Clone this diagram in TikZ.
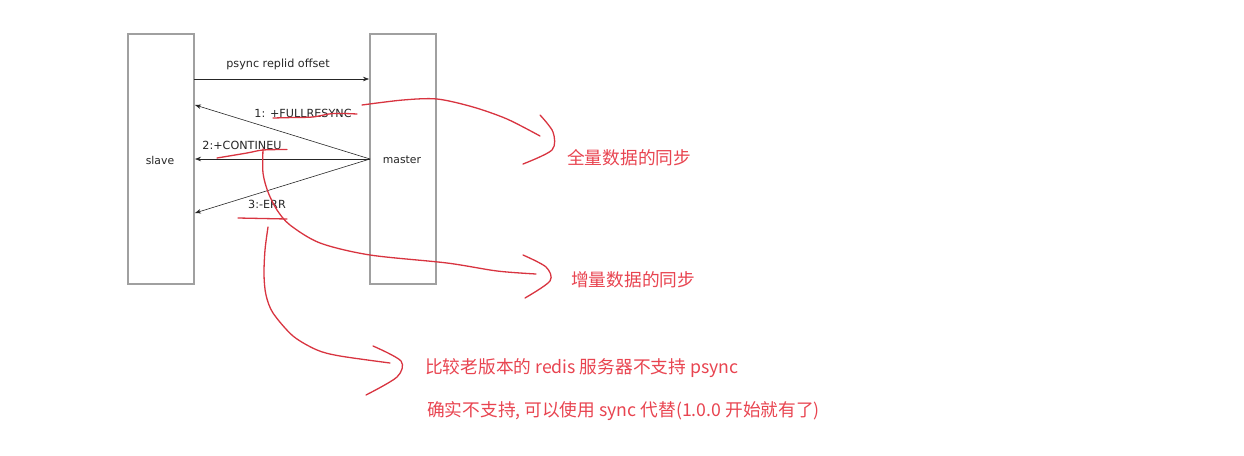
\documentclass[tikz,border=0pt]{standalone}
\usepackage{fontspec}
\setmainfont{DejaVu Sans}
\newfontfamily\cjkfont{Noto Sans CJK SC}
\usetikzlibrary{arrows.meta}
\definecolor{boxgray}{RGB}{160,160,160}
\definecolor{annored}{RGB}{216,52,64}
\definecolor{textred}{RGB}{232,68,80}
\tikzset{
  lifebox/.style={draw=boxgray, line width=1.1pt, fill=white},
  msgarrow/.style={draw=black!85, line width=0.6pt, -{Stealth[length=6pt,width=4.5pt]}},
  msglabel/.style={inner sep=0pt, font=\fontsize{11.2}{12}\selectfont, text=black!85},
  boxlabel/.style={inner sep=0pt, font=\fontsize{10.8}{12}\selectfont, text=black!85},
  redline/.style={draw=annored, line width=1.3pt, line cap=round, line join=round},
  redtext/.style={inner sep=0pt, anchor=west, text=textred, font=\cjkfont\fontsize{17.7}{20}\selectfont},
}
\begin{document}
\begin{tikzpicture}[x=1pt,y=-1pt]
\useasboundingbox (0,0) rectangle (1244,455);
% lifeline boxes
\draw[lifebox] (128,34) rectangle (194,284);
\draw[lifebox] (370,34) rectangle (436,284);
\node[boxlabel] (slave) at (160,160) {slave};
\node[boxlabel] (master) at (402,160) {master};
% anchor coordinates
\coordinate (sA) at (194,79);
\coordinate (mA) at (369,79);
\coordinate (mB) at (370,159);
\coordinate (s1) at (195,105);
\coordinate (s2) at (195,159);
\coordinate (s3) at (195,213);
% messages
\draw[msgarrow] (sA) -- (mA);
\draw[msgarrow] (mB) -- (s1);
\draw[msgarrow] (mB) -- (s2);
\draw[msgarrow] (mB) -- (s3);
\node[msglabel] (l0) at (278,64) {psync replid offset};
\node[msglabel] (l1) at (303,113) {1: +FULLRESYNC};
\node[msglabel] (l2) at (242,145) {2:+CONTINEU};
\node[msglabel] (l3) at (267,204) {3:-ERR};
% red annotations: underlines
\draw[redline] plot[smooth] coordinates {(273,118) (293,117.5) (313,117) (333,113.5) (357,114)};
\draw[redline] plot[smooth] coordinates {(217,158) (247,153) (263,150) (287,149.5)};
\draw[redline] (238,218) -- (287,219);
% curve 1
\draw[redline] plot[smooth] coordinates {(362,105) (403,100) (437,99) (473,107) (507,119) (540,136)};
\draw[redline] plot[smooth] coordinates {(540,115) (553,132) (552,150) (523,164)};
% curve 2
\draw[redline] plot[smooth] coordinates {(263,149) (263,173) (268,192) (277,210) (290,225) (320,243) (370,255) (447,263) (497,271) (536,274)};
\draw[redline] plot[smooth] coordinates {(523,255) (546,267) (550,281) (525,298)};
% curve 3
\draw[redline] plot[smooth] coordinates {(268,227) (265,250) (264,275) (266,295) (273,313) (293,336) (317,350) (340,356) (390,363)};
\draw[redline] plot[smooth] coordinates {(373,346) (401,361) (397,377) (366,395)};
% red texts
\node[redtext] (t1) at (567,158) {全量数据的同步};
\node[redtext] (t2) at (571,280) {增量数据的同步};
\node[redtext] (t3) at (425,368) {比较老版本的 redis 服务器不支持 psync};
\node[redtext] (t4) at (427,411) {确实不支持, 可以使用 sync 代替(1.0.0 开始就有了)};
\end{tikzpicture}
\end{document}
